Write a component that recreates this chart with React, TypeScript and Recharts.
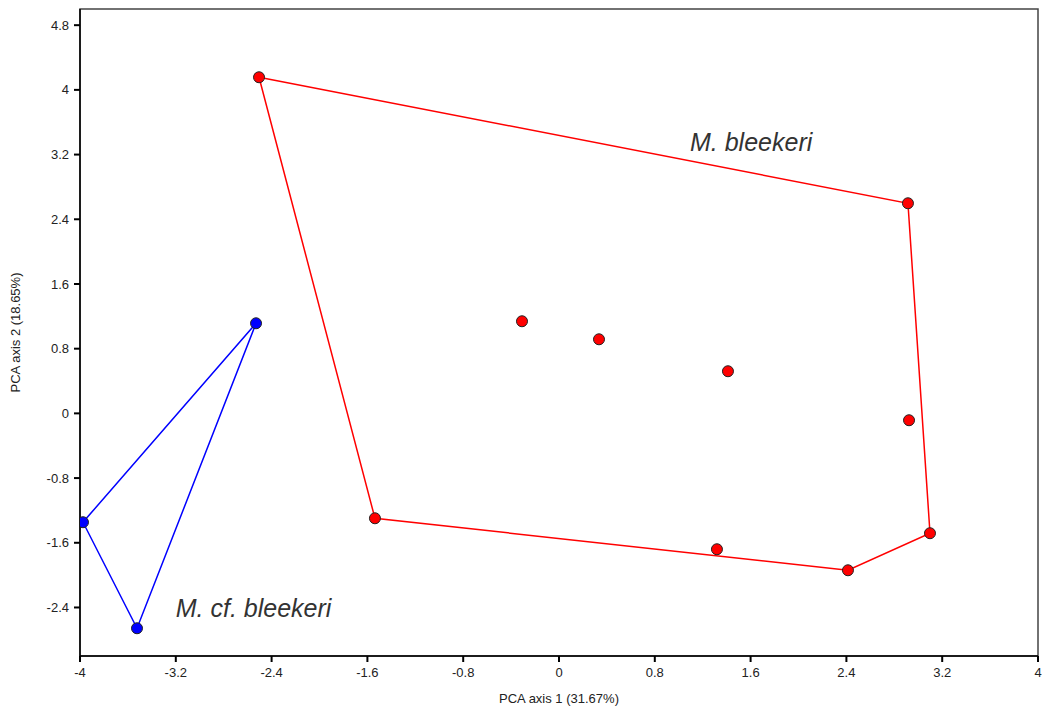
import { ReferenceArea, Scatter, ScatterChart, XAxis, YAxis } from "recharts"

const redX = [-2.505, 2.914, 3.098, 2.413, 1.319, -1.537, -0.309, 0.334, 1.411, 2.923]
const redY = [4.156, 2.598, -1.482, -1.94, -1.68, -1.297, 1.139, 0.916, 0.521, -0.085]
const redHull = [0, 1, 2, 3, 5, 0]

const blueX = [-2.53, -3.975, -3.524]
const blueY = [1.114, -1.346, -2.657]
const blueHull = [0, 1, 2, 0]

const labelText = ["M. bleekeri", "M. cf. bleekeri"]
const labelX = [1.094, -3.2]
const labelY = [3.352, -2.41]

const xTicks = [-4, -3.2, -2.4, -1.6, -0.8, 0, 0.8, 1.6, 2.4, 3.2, 4]
const yTicks = [-2.4, -1.6, -0.8, 0, 0.8, 1.6, 2.4, 3.2, 4, 4.8]

const toPoints = (xs: number[], ys: number[]) => xs.map((x, i) => ({ x, y: ys[i] }))
const toHull = (xs: number[], ys: number[], order: number[]) => order.map((i) => ({ x: xs[i], y: ys[i] }))

const redPoints = toPoints(redX, redY)
const bluePoints = toPoints(blueX, blueY)
const redHullPoints = toHull(redX, redY, redHull)
const blueHullPoints = toHull(blueX, blueY, blueHull)
const labels = labelText.map((text, i) => ({ x: labelX[i], y: labelY[i], text }))

const font = "'Liberation Sans', Arial, sans-serif"
const tickStyle = { fontSize: 13, fill: "#222", fontFamily: font }

const Dot = (color: string) => (props: any) => (
  <circle cx={props.cx} cy={props.cy} r={5.5} fill={color} stroke="#222" strokeWidth={1} />
)

const NoDot = () => <g />

const SpeciesLabel = (props: any) => (
  <text
    x={props.cx}
    y={props.cy}
    dominantBaseline="central"
    fontSize={25}
    fontStyle="italic"
    fontFamily={font}
    fill="#333"
  >
    {props.payload.text}
  </text>
)

export default function App() {
  return (
    <div style={{ position: "absolute", left: 0, top: 0, background: "#fff" }}>
      <ScatterChart width={1050} height={708} margin={{ top: 9, right: 12, bottom: 22, left: 0 }}>
        <XAxis
          type="number"
          dataKey="x"
          domain={[-4, 4]}
          ticks={xTicks}
          allowDataOverflow
          height={30}
          tick={tickStyle}
          tickSize={6}
          tickMargin={6}
          axisLine={{ stroke: "#000", strokeWidth: 1.5 }}
          tickLine={{ stroke: "#000", strokeWidth: 2 }}
          label={{ value: "PCA axis 1 (31.67%)", position: "bottom", offset: 8, style: { fontSize: 13, fill: "#222", fontFamily: font } }}
        />
        <YAxis
          type="number"
          dataKey="y"
          domain={[-3, 5]}
          ticks={yTicks}
          allowDataOverflow
          width={80}
          tick={tickStyle}
          tickSize={6}
          tickMargin={5}
          axisLine={{ stroke: "#000", strokeWidth: 1.5 }}
          tickLine={{ stroke: "#000", strokeWidth: 2 }}
          label={{ value: "PCA axis 2 (18.65%)", angle: -90, position: "insideLeft", offset: 15, style: { textAnchor: "middle", fontSize: 13, fill: "#222", fontFamily: font } }}
        />
        <ReferenceArea x1={-4} x2={4} y1={-3} y2={5} fill="none" stroke="#444" strokeWidth={1.5} ifOverflow="visible" />
        <Scatter data={redHullPoints} line={{ stroke: "#ff0000", strokeWidth: 1.5 }} shape={NoDot} isAnimationActive={false} />
        <Scatter data={blueHullPoints} line={{ stroke: "#0000ff", strokeWidth: 1.5 }} shape={NoDot} isAnimationActive={false} />
        <Scatter data={redPoints} shape={Dot("#ff0000")} isAnimationActive={false} />
        <Scatter data={bluePoints} shape={Dot("#0000ff")} isAnimationActive={false} />
        <Scatter data={labels} shape={SpeciesLabel} isAnimationActive={false} />
      </ScatterChart>
    </div>
  )
}
